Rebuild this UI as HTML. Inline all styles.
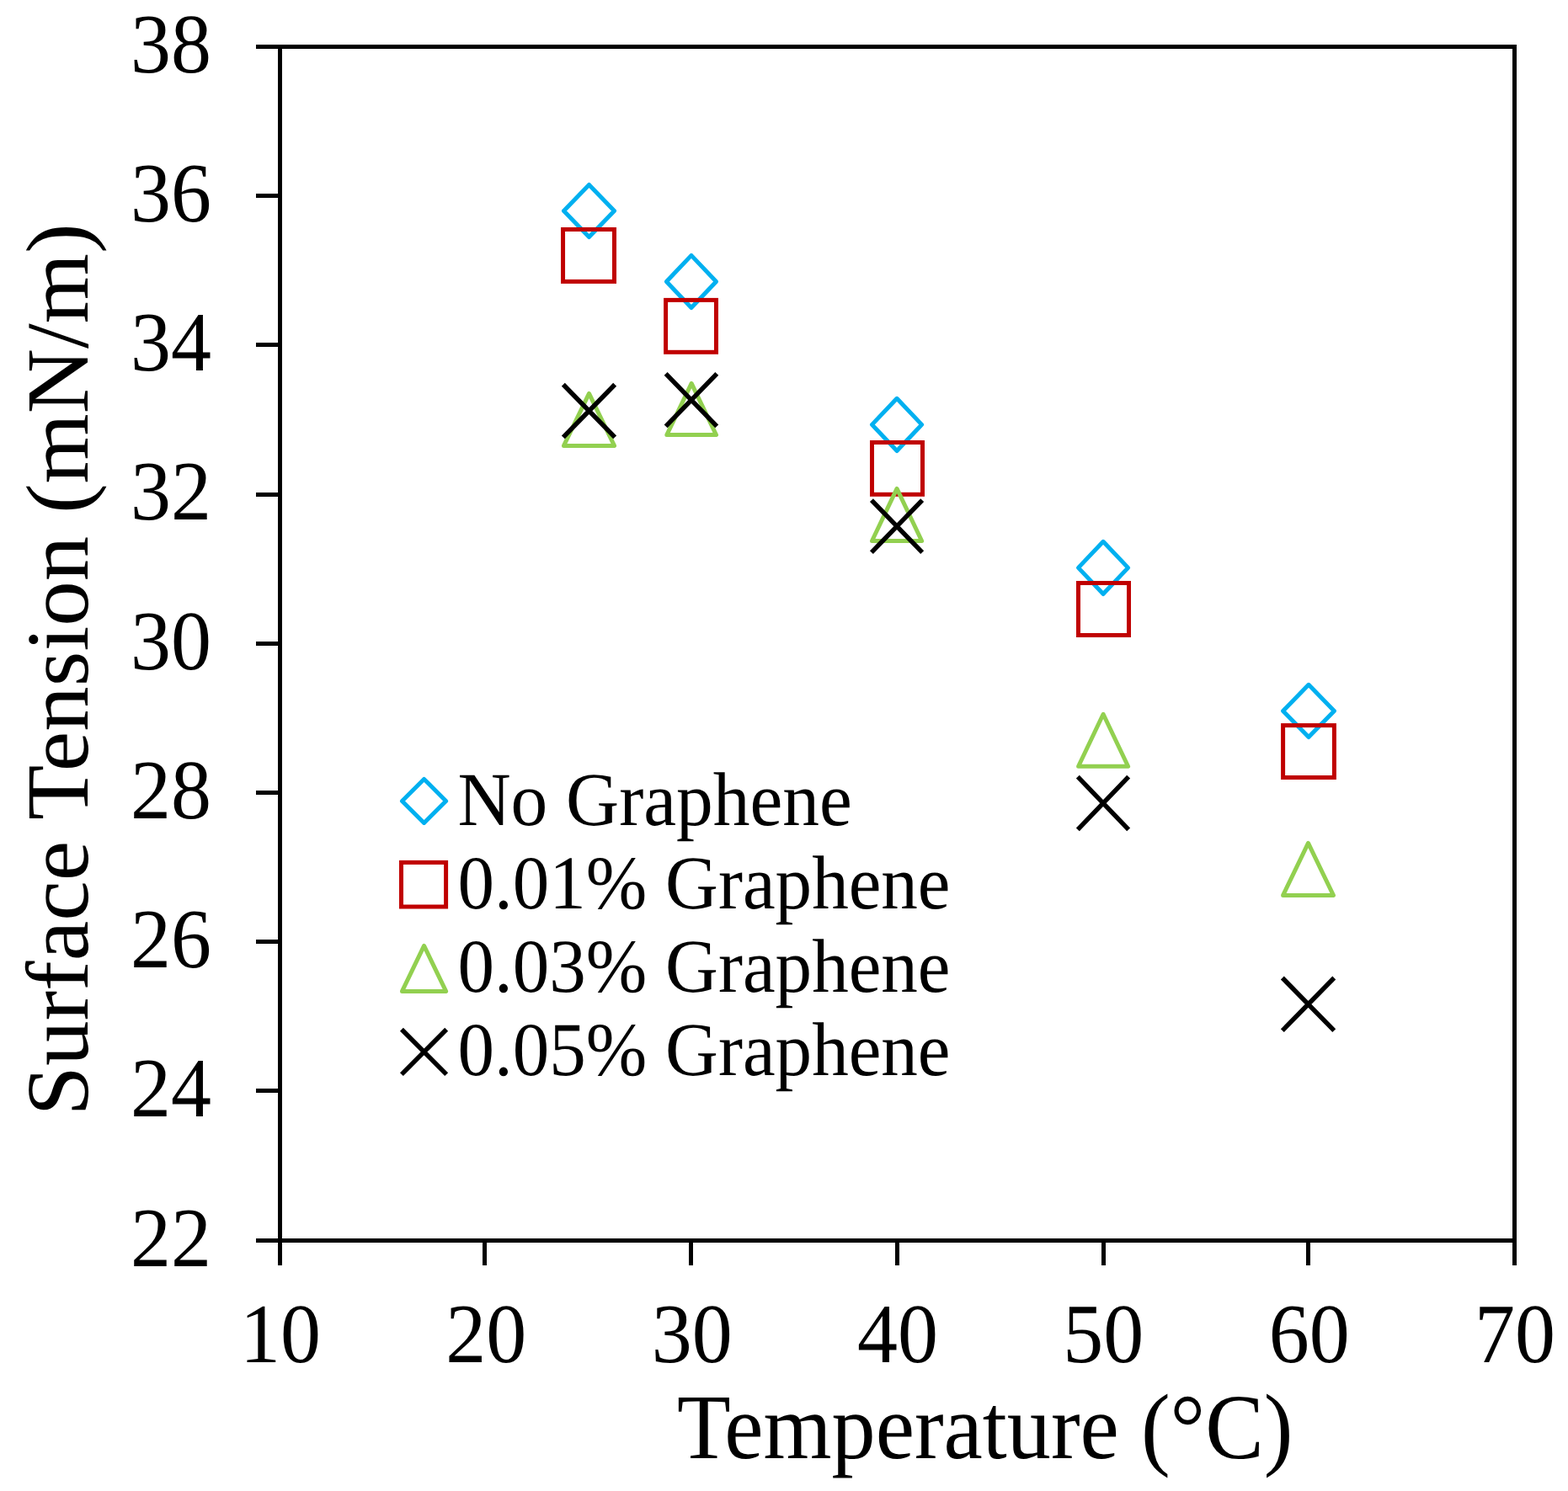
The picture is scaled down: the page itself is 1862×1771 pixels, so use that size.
<!DOCTYPE html>
<html lang="en"><head><meta charset="utf-8"><title>Surface Tension vs Temperature</title>
<style>
html,body{margin:0;padding:0;background:#fff;}
body{width:1862px;height:1771px;overflow:hidden;}
svg{display:block;}
text{font-family:"Liberation Serif",serif;fill:#000;font-kerning:normal;text-rendering:geometricPrecision;}
.ax{stroke:#000;stroke-width:5;fill:none;stroke-linecap:butt;stroke-linejoin:miter;}
.d{stroke:#00B0F0;fill:none;stroke-width:5;stroke-linejoin:round;}
.s{stroke:#C00000;fill:none;stroke-width:5;stroke-linejoin:miter;}
.t{stroke:#92D050;fill:none;stroke-width:5;stroke-linejoin:round;}
.x{stroke:#000;fill:none;stroke-width:5.5;stroke-linecap:butt;}
</style></head><body>
<svg role="img" aria-label="Scatter chart of surface tension versus temperature for four graphene concentrations" width="1862" height="1771" viewBox="0 0 1862 1771">
<rect x="0" y="0" width="1862" height="1771" fill="#fff"/>
<g class="ax">
<path d="M332.5 55.5 H1798.5 V1473.5 H332.5 Z"/>
<line x1="304" y1="232.5" x2="332.5" y2="232.5"/>
<line x1="304" y1="409.5" x2="332.5" y2="409.5"/>
<line x1="304" y1="587.5" x2="332.5" y2="587.5"/>
<line x1="304" y1="764.5" x2="332.5" y2="764.5"/>
<line x1="304" y1="941.5" x2="332.5" y2="941.5"/>
<line x1="304" y1="1118.5" x2="332.5" y2="1118.5"/>
<line x1="304" y1="1295.5" x2="332.5" y2="1295.5"/>
<line x1="304" y1="55.5" x2="332.5" y2="55.5"/>
<line x1="304" y1="1473.5" x2="332.5" y2="1473.5"/>
<line x1="332.5" y1="1473.5" x2="332.5" y2="1503"/>
<line x1="575.5" y1="1473.5" x2="575.5" y2="1503"/>
<line x1="820.5" y1="1473.5" x2="820.5" y2="1503"/>
<line x1="1065.5" y1="1473.5" x2="1065.5" y2="1503"/>
<line x1="1310.5" y1="1473.5" x2="1310.5" y2="1503"/>
<line x1="1553.5" y1="1473.5" x2="1553.5" y2="1503"/>
<line x1="1798.5" y1="1473.5" x2="1798.5" y2="1503"/>
</g>
<g>
<text transform="translate(251 85.7) scale(0.9571 1.0000)" font-size="100.3" text-anchor="end">38</text>
<text transform="translate(251 262.95) scale(0.9571 1.0000)" font-size="100.3" text-anchor="end">36</text>
<text transform="translate(251 440.2) scale(0.9571 1.0000)" font-size="100.3" text-anchor="end">34</text>
<text transform="translate(251 617.45) scale(0.9571 1.0000)" font-size="100.3" text-anchor="end">32</text>
<text transform="translate(251 794.7) scale(0.9571 1.0000)" font-size="100.3" text-anchor="end">30</text>
<text transform="translate(251 971.95) scale(0.9571 1.0000)" font-size="100.3" text-anchor="end">28</text>
<text transform="translate(251 1149.2) scale(0.9571 1.0000)" font-size="100.3" text-anchor="end">26</text>
<text transform="translate(251 1326.45) scale(0.9571 1.0000)" font-size="100.3" text-anchor="end">24</text>
<text transform="translate(251 1503.7) scale(0.9571 1.0000)" font-size="100.3" text-anchor="end">22</text>
</g>
<g>
<text transform="translate(333 1618.1) scale(0.9571 1.0000)" font-size="100.3" text-anchor="middle">10</text>
<text transform="translate(577.33 1618.1) scale(0.9571 1.0000)" font-size="100.3" text-anchor="middle">20</text>
<text transform="translate(821.67 1618.1) scale(0.9571 1.0000)" font-size="100.3" text-anchor="middle">30</text>
<text transform="translate(1066 1618.1) scale(0.9571 1.0000)" font-size="100.3" text-anchor="middle">40</text>
<text transform="translate(1310.33 1618.1) scale(0.9571 1.0000)" font-size="100.3" text-anchor="middle">50</text>
<text transform="translate(1554.67 1618.1) scale(0.9571 1.0000)" font-size="100.3" text-anchor="middle">60</text>
<text transform="translate(1799 1618.1) scale(0.9571 1.0000)" font-size="100.3" text-anchor="middle">70</text>
</g>
<text transform="translate(803.9 1732) scale(0.9464 1.0000)" font-size="110.1" text-anchor="start">Temperature (°C)</text>
<text transform="translate(104 1325.5) rotate(-90) scale(1.0140 1.0000)" font-size="105.5" text-anchor="start">Surface Tension (mN/m)</text>
<g>
<path class="d" d="M699.5 219.4 L729.5 250.48 L699.5 281.55 L669.5 250.48 Z"/>
<path class="d" d="M820.95 303.4 L850.5 334.45 L820.95 365.5 L791.4 334.45 Z"/>
<path class="d" d="M1065.05 473.3 L1094.6 504.4 L1065.05 535.5 L1035.5 504.4 Z"/>
<path class="d" d="M1310.05 643.3 L1339.6 674.4 L1310.05 705.5 L1280.5 674.4 Z"/>
<path class="d" d="M1554 813.3 L1584.4 844.4 L1554 875.5 L1523.6 844.4 Z"/>
<rect class="s" x="668.55" y="272.5" width="60.95" height="61.9"/>
<rect class="s" x="790.6" y="356.4" width="59.9" height="61.9"/>
<rect class="s" x="1035.5" y="525.5" width="60" height="61.8"/>
<rect class="s" x="1280.5" y="692.5" width="60" height="62"/>
<rect class="s" x="1523.6" y="861.6" width="60.8" height="61.9"/>
<path class="t" d="M699.5 467.4 L729.5 529.4 L669.5 529.4 Z"/>
<path class="t" d="M821.15 455.4 L850.5 516.6 L791.8 516.6 Z"/>
<path class="t" d="M1065.05 580.4 L1094.6 642.5 L1035.5 642.5 Z"/>
<path class="t" d="M1310.1 848.3 L1339.6 910.3 L1280.6 910.3 Z"/>
<path class="t" d="M1553.5 1001.46 L1583.4 1063.4 L1523.6 1063.4 Z"/>
<path class="x" d="M668.84 456.74 L730.16 519.36 M730.16 456.74 L668.84 519.36"/>
<path class="x" d="M790.64 443.84 L851.26 506.36 M851.26 443.84 L790.64 506.36"/>
<path class="x" d="M1034.94 594.04 L1095.16 656.21 M1095.16 594.04 L1034.94 656.21"/>
<path class="x" d="M1279.84 922.64 L1340.16 985.46 M1340.16 922.64 L1279.84 985.46"/>
<path class="x" d="M1522.84 1161.54 L1584.26 1224.06 M1584.26 1161.54 L1522.84 1224.06"/>
</g>
<g>
<path class="d" d="M503.55 925.4 L529.6 951.4 L503.55 977.4 L477.5 951.4 Z"/>
<rect class="s" x="476.5" y="1024.4" width="53.1" height="52.6"/>
<path class="t" d="M503.55 1123.4 L529.6 1177.4 L477.5 1177.4 Z"/>
<path class="x" d="M476.94 1222.74 L530.16 1276.16 M530.16 1222.74 L476.94 1276.16"/>
</g>
<g>
<text transform="translate(543.4 979.8) scale(0.9670 1.0000)" font-size="90.4" text-anchor="start">No Graphene</text>
<text transform="translate(543.4 1079) scale(0.9633 1.0000)" font-size="90.4" text-anchor="start">0.01% Graphene</text>
<text transform="translate(543.4 1177.9) scale(0.9633 1.0000)" font-size="90.4" text-anchor="start">0.03% Graphene</text>
<text transform="translate(543.4 1276.7) scale(0.9633 1.0000)" font-size="90.4" text-anchor="start">0.05% Graphene</text>
</g>
</svg>
</body></html>
